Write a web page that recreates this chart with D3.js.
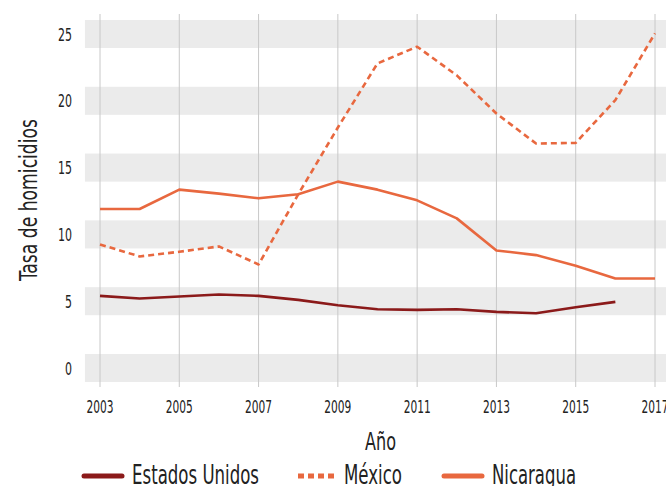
<!DOCTYPE html>
<meta charset="utf-8">
<style>
  body { margin: 0; background: #fff; }
  svg text { font-family: "Liberation Sans Narrow", "DejaVu Sans Condensed", sans-serif; fill: #222; }
</style>
<body>
<div id="chart"></div>
<script src="https://d3js.org/d3.v7.min.js"></script>
<script>
// values
const years = d3.range(2003, 2018);
const estadosUnidos = [5.4, 5.2, 5.35, 5.5, 5.4, 5.1, 4.7, 4.4, 4.35, 4.4, 4.2, 4.1, 4.55, 4.95];
const mexico = [9.25, 8.35, 8.7, 9.1, 7.75, 13.0, 18.0, 22.8, 24.05, 21.9, 19.05, 16.8, 16.85, 20.05, 25.05];
const nicaragua = [11.9, 11.9, 13.35, 13.05, 12.7, 13.0, 13.95, 13.35, 12.55, 11.2, 8.8, 8.45, 7.65, 6.7, 6.7];
const yTicks = [0, 5, 10, 15, 20, 25];
const xTicks = [2003, 2005, 2007, 2009, 2011, 2013, 2015, 2017];

const series = [
  { name: "Estados Unidos", values: estadosUnidos, color: "#8B1A1A", dash: null },
  { name: "México", values: mexico, color: "#E8683F", dash: "6,4" },
  { name: "Nicaragua", values: nicaragua, color: "#E8683F", dash: null }
];

const width = 666, height = 486;

const x = d3.scaleLinear().domain([2003, 2017]).range([100, 655]);
const y = d3.scaleLinear().domain([0, 25]).range([368, 34]);

const svg = d3.select("#chart").append("svg")
  .attr("width", width)
  .attr("height", height);

// horizontal bands around each y tick
svg.append("g").selectAll("rect")
  .data(yTicks)
  .join("rect")
  .attr("x", x(2002.62))
  .attr("width", width - x(2002.62))
  .attr("y", d => y(d + 1.05))
  .attr("height", d => y(d - 1.05) - y(d + 1.05))
  .attr("fill", "#EBEBEB");

// vertical grid lines + ticks
svg.append("g").selectAll("line")
  .data(xTicks)
  .join("line")
  .attr("x1", d => x(d)).attr("x2", d => x(d))
  .attr("y1", 14).attr("y2", 387)
  .attr("stroke", "#C8C8C8")
  .attr("stroke-width", 1);

// tick labels
svg.append("g").selectAll("text")
  .data(xTicks)
  .join("text")
  .attr("x", d => x(d))
  .attr("y", 413)
  .attr("text-anchor", "middle")
  .attr("font-size", 18)
  .attr("textLength", 27)
  .attr("lengthAdjust", "spacingAndGlyphs")
  .text(d => d);

svg.append("g").selectAll("text")
  .data(yTicks)
  .join("text")
  .attr("x", 72)
  .attr("y", d => y(d) + 6.5)
  .attr("text-anchor", "end")
  .attr("font-size", 18)
  .attr("textLength", d => String(d).length * 7)
  .attr("lengthAdjust", "spacingAndGlyphs")
  .text(d => d);

// axis titles
svg.append("text")
  .attr("x", 380.5)
  .attr("y", 450)
  .attr("text-anchor", "middle")
  .attr("font-size", 25)
  .attr("textLength", 31)
  .attr("lengthAdjust", "spacingAndGlyphs")
  .text("Año");

svg.append("text")
  .attr("transform", "translate(37,200) rotate(-90)")
  .attr("text-anchor", "middle")
  .attr("font-size", 25)
  .attr("textLength", 162)
  .attr("lengthAdjust", "spacingAndGlyphs")
  .text("Tasa de homicidios");

// lines
const line = d3.line()
  .defined(d => d != null)
  .x((d, i) => x(years[i]))
  .y(d => y(d));

svg.append("g").selectAll("path")
  .data(series)
  .join("path")
  .attr("d", d => line(d.values))
  .attr("fill", "none")
  .attr("stroke", d => d.color)
  .attr("stroke-width", 2.6)
  .attr("stroke-dasharray", d => d.dash)
  .attr("stroke-linejoin", "round");

// legend
const legendItems = [
  { s: series[0], x0: 84, tx: 132, tw: 127 },
  { s: series[1], x0: 298, tx: 344, tw: 58 },
  { s: series[2], x0: 444, tx: 492, tw: 84 }
];
const legend = svg.append("g").selectAll("g")
  .data(legendItems)
  .join("g");

legend.append("line")
  .attr("x1", d => d.x0).attr("x2", d => d.x0 + 38)
  .attr("y1", 476).attr("y2", 476)
  .attr("stroke", d => d.s.color)
  .attr("stroke-width", 5)
  .attr("stroke-linecap", d => d.s.dash ? "butt" : "round")
  .attr("stroke-dasharray", d => d.s.dash ? "6,4" : null);

legend.append("text")
  .attr("x", d => d.tx)
  .attr("y", 484)
  .attr("font-size", 26)
  .attr("textLength", d => d.tw)
  .attr("lengthAdjust", "spacingAndGlyphs")
  .text(d => d.s.name);
</script>
</body>
